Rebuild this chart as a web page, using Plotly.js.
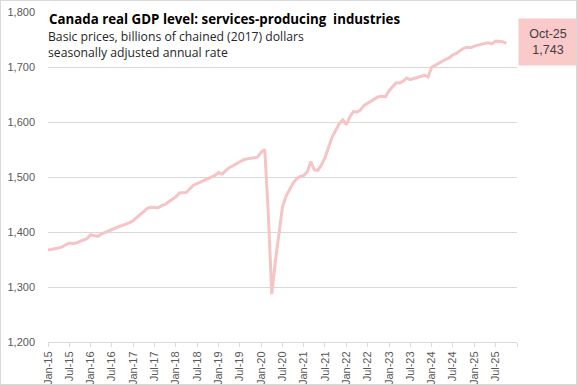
<!DOCTYPE html>
<html>
<head>
<meta charset="utf-8">
<script src="https://cdn.plot.ly/plotly-3.0.1.min.js"></script>
<style>
  html, body { margin: 0; padding: 0; background: #ffffff; }
  #wrap { position: relative; width: 577px; height: 385px; }
  #chart { width: 577px; height: 385px; }
  #frame { position: absolute; left: 0; top: 0; width: 575px; height: 383px; border: 1px solid #d9d9d9; pointer-events: none; }
</style>
</head>
<body>
<div id="wrap"><div id="chart"></div><div id="frame"></div></div>
<script>
// Monthly data, Jan-2015 to Oct-2025 (billions of chained 2017 dollars, SAAR)
const startYear = 2015;
const startMonth = 1;
const gdpServices = [
  1367, 1368, 1369, 1371, 1373, 1376, 1380, 1379, 1380, 1383, 1385, 1388,
  1395, 1393, 1392, 1396, 1399, 1402, 1404, 1407, 1410, 1412, 1414, 1417,
  1421, 1427, 1433, 1439, 1443, 1445, 1445, 1444, 1448, 1450, 1455, 1459,
  1464, 1471, 1472, 1472, 1479, 1485, 1488, 1491, 1495, 1498, 1500, 1503,
  1508, 1505, 1511, 1517, 1520, 1524, 1528, 1531, 1533, 1534, 1535, 1536,
  1545, 1550, 1440, 1287, 1345, 1400, 1445, 1465, 1478, 1489, 1497, 1501,
  1503, 1510, 1528, 1513, 1512, 1522, 1535, 1555, 1573, 1585, 1597, 1604,
  1595, 1610, 1619, 1618, 1622, 1630, 1634, 1638, 1642, 1646, 1647, 1646,
  1657, 1664, 1671, 1671, 1674, 1680, 1677, 1679, 1681, 1683, 1685, 1682,
  1700, 1703, 1707, 1710, 1714, 1717, 1722, 1725, 1730, 1734, 1736, 1735,
  1738, 1740, 1741, 1743, 1744, 1742, 1747, 1746, 1746, 1743
];
const tickLabels = [
  'Jan-15','Jul-15','Jan-16','Jul-16','Jan-17','Jul-17','Jan-18','Jul-18',
  'Jan-19','Jul-19','Jan-20','Jul-20','Jan-21','Jul-21','Jan-22','Jul-22',
  'Jan-23','Jul-23','Jan-24','Jul-24','Jan-25','Jul-25',''
];
const yTicks = [1200, 1300, 1400, 1500, 1600, 1700, 1800];
const titleText = 'Canada real GDP level: services-producing  industries';
const subtitle1 = 'Basic prices, billions of chained (2017) dollars';
const subtitle2 = 'seasonally adjusted annual rate';
const lastLabel = 'Oct-25<br>1,743';

function monthDate(offset) {
  const m0 = (startMonth - 1) + offset;
  const y = startYear + Math.floor(m0 / 12);
  const m = (m0 % 12) + 1;
  return y + '-' + String(m).padStart(2, '0') + '-01';
}
const xDates = gdpServices.map((_, i) => monthDate(i));
const tickVals = tickLabels.map((_, i) => monthDate(i * 6));

const lineColor = '#F6C4C4';
const boxColor = '#FAC9C9';
const tickFont = { family: 'Liberation Sans, Arial, sans-serif', size: 11, color: '#595959' };
const titleFamily = 'Open Sans, Noto Sans, sans-serif';

const trace = {
  x: xDates,
  y: gdpServices,
  type: 'scatter',
  mode: 'lines',
  line: { color: lineColor, width: 3 },
  hoverinfo: 'skip'
};

// plot area: top 12, bottom 342 (height 330)
function py(pix) { return (342 - pix) / 330; }

const layout = {
  width: 577,
  height: 385,
  margin: { l: 48, r: 60, t: 12, b: 43, pad: 0 },
  paper_bgcolor: '#ffffff',
  plot_bgcolor: '#ffffff',
  showlegend: false,
  xaxis: {
    type: 'date',
    range: [monthDate(0), monthDate(132)],
    tickmode: 'array',
    tickvals: tickVals,
    ticktext: tickLabels,
    tickangle: -90,
    ticks: 'outside',
    ticklen: 4,
    tickcolor: '#d9d9d9',
    showline: true,
    linecolor: '#d9d9d9',
    linewidth: 1,
    showgrid: false,
    zeroline: false,
    tickfont: tickFont,
    fixedrange: true
  },
  yaxis: {
    range: [1200, 1800],
    tickmode: 'array',
    tickvals: yTicks,
    tickformat: ',',
    showgrid: true,
    gridcolor: '#d9d9d9',
    gridwidth: 1,
    showline: false,
    zeroline: false,
    ticks: '',
    ticklabelstandoff: 12,
    tickfont: tickFont,
    fixedrange: true
  },
  annotations: [
    {
      xref: 'paper', yref: 'paper', x: 0, y: py(19.5), xanchor: 'left', yanchor: 'middle',
      text: '<b>' + titleText + '</b>', showarrow: false, align: 'left',
      font: { family: titleFamily, size: 13.3, color: '#000000' },
      bgcolor: '#ffffff', borderpad: 2, xshift: -2
    },
    {
      xref: 'paper', yref: 'paper', x: 0, y: py(36), xanchor: 'left', yanchor: 'middle',
      text: subtitle1, showarrow: false, align: 'left',
      font: { family: titleFamily, size: 12.2, color: '#262626' },
      xshift: -2
    },
    {
      xref: 'paper', yref: 'paper', x: 0, y: py(52.5), xanchor: 'left', yanchor: 'middle',
      text: subtitle2, showarrow: false, align: 'left',
      font: { family: titleFamily, size: 12.2, color: '#262626' },
      xshift: -2
    },
    {
      xref: 'paper', yref: 'paper', x: 1, y: py(18.5), xanchor: 'left', yanchor: 'top',
      text: lastLabel, showarrow: false, align: 'center',
      font: { family: 'Liberation Sans, Arial, sans-serif', size: 12.5, color: '#404040' },
      bgcolor: boxColor, width: 54, height: 42, borderpad: 2, xshift: 1, valign: 'middle'
    }
  ]
};

Plotly.newPlot('chart', [trace], layout, { displayModeBar: false, staticPlot: true });
</script>
</body>
</html>
